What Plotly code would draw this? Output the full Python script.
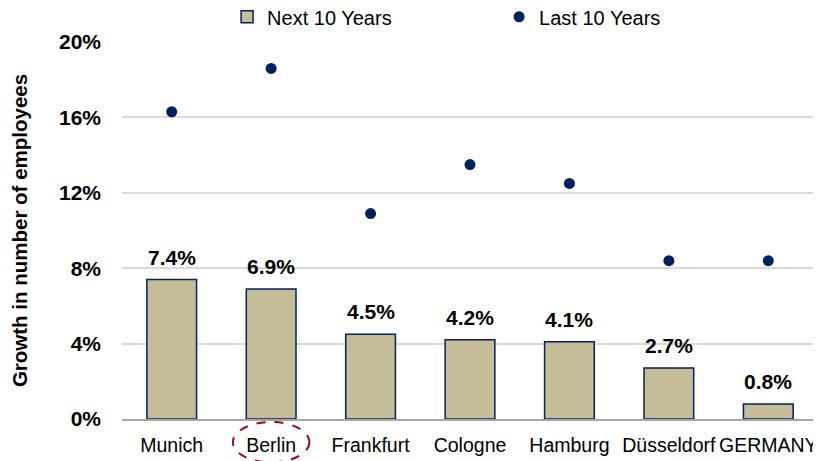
"""Employee growth by city: next 10 years (bars) vs last 10 years (dots)."""

import plotly.graph_objects as go

# Data
cities = ["Munich", "Berlin", "Frankfurt", "Cologne", "Hamburg", "Düsseldorf", "GERMANY"]
next_10_years = [0.074, 0.069, 0.045, 0.042, 0.041, 0.027, 0.008]
last_10_years = [0.163, 0.186, 0.109, 0.135, 0.125, 0.084, 0.084]
y_ticks = [0, 0.04, 0.08, 0.12, 0.16, 0.20]

FONT = "Liberation Sans, Arial, sans-serif"
BAR_FILL = "#C4BD97"
NAVY = "#002060"

fig = go.Figure()

fig.add_trace(
    go.Bar(
        x=cities,
        y=next_10_years,
        name="Next 10 Years",
        marker=dict(color=BAR_FILL, line=dict(color=NAVY, width=1.5)),
        width=0.5,
    )
)

fig.add_trace(
    go.Scatter(
        x=cities,
        y=last_10_years,
        name="Last 10 Years",
        mode="markers",
        marker=dict(color=NAVY, size=11),
    )
)

# value labels above the bars
for city, v in zip(cities, next_10_years):
    fig.add_annotation(
        x=city,
        y=v,
        text=f"{v * 100:.1f}%",
        showarrow=False,
        yanchor="bottom",
        yshift=9,
        font=dict(size=21, color="#000000", weight="bold"),
    )

# dashed ellipse highlighting Berlin label
fig.add_shape(
    type="circle",
    xref="x",
    yref="paper",
    x0=1 - 0.385,
    x1=1 + 0.385,
    y0=-0.008,
    y1=-0.115,
    line=dict(color="#A50021", width=2, dash="dash"),
)

# page body adds an 8px margin, so the figure is 8px smaller than the window
fig.update_layout(
    width=813,
    height=453,
    margin=dict(l=114, r=3, t=34, b=42, autoexpand=False),
    plot_bgcolor="white",
    paper_bgcolor="white",
    font=dict(family=FONT, size=20, color="#000000"),
    showlegend=True,
    legend=dict(
        orientation="h",
        x=0.151,
        xanchor="left",
        y=1.067,
        yanchor="middle",
        font=dict(size=20),
        itemwidth=30,
        entrywidthmode="pixels",
        entrywidth=227,
    ),
)

fig.update_yaxes(
    range=[0, 0.2],
    tickvals=y_ticks,
    tickformat=".0%",
    tickfont=dict(size=21, weight="bold"),
    ticklabelstandoff=20,
    showgrid=True,
    gridcolor="#D9D9D9",
    gridwidth=1.5,
    zeroline=False,
    showline=False,
    automargin=False,
    title=dict(
        text="Growth in number of employees",
        font=dict(size=20.5, weight="bold"),
        standoff=28,
    ),
)

fig.update_xaxes(
    tickfont=dict(size=19.5),
    showline=True,
    linecolor="#A6A6A6",
    linewidth=1.5,
    ticks="",
    ticklabelstandoff=8,
    automargin=False,
)

fig.write_html("out.html")
